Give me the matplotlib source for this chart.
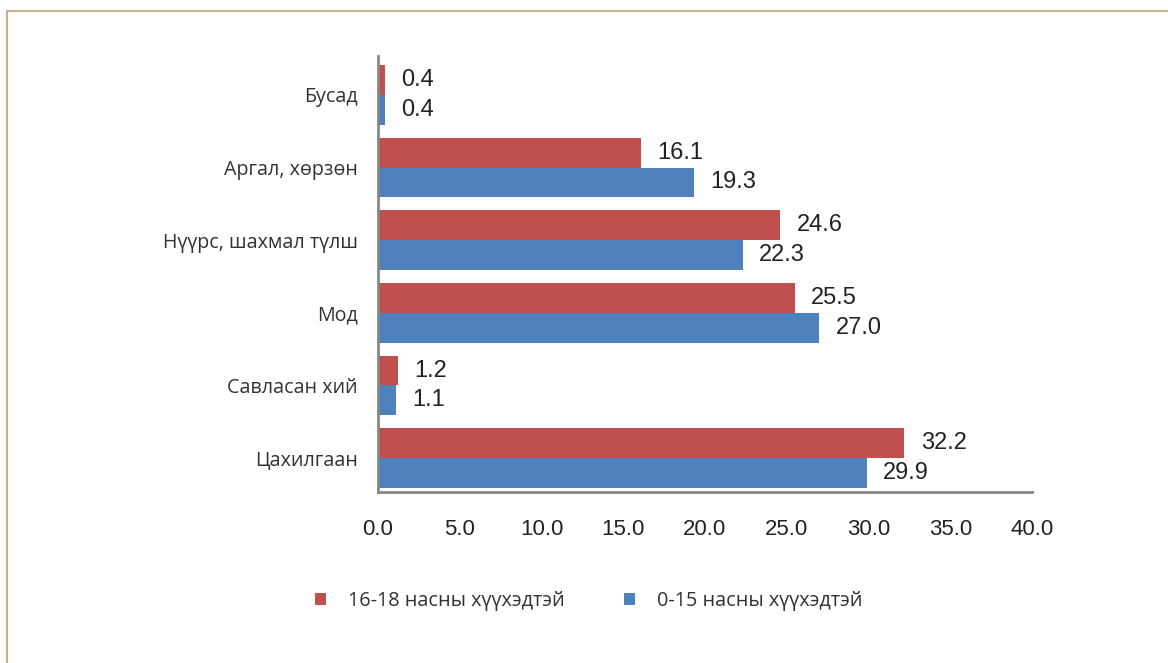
import matplotlib.pyplot as plt
import numpy as np
from matplotlib.patches import Rectangle

categories = ['Цахилгаан', 'Савласан хий', 'Мод', 'Нүүрс, шахмал түлш', 'Аргал, хөрзөн', 'Бусад']
older = [32.2, 1.2, 25.5, 24.6, 16.1, 0.4]     # 16-18 насны хүүхэдтэй
younger = [29.9, 1.1, 27.0, 22.3, 19.3, 0.4]   # 0-15 насны хүүхэдтэй
series_names = ['16-18 насны хүүхэдтэй', '0-15 насны хүүхэдтэй']
xticks = [0, 5, 10, 15, 20, 25, 30, 35, 40]

red = '#C0504D'
blue = '#4F81BD'
spine_col = '#868686'
num_font = ['Liberation Sans', 'DejaVu Sans']

fig = plt.figure(figsize=(11.68, 6.63), dpi=100)
ax = fig.add_axes([378 / 1168, 1 - 492 / 663, (1032 - 378) / 1168, (492 - 56) / 663])

# frame around the chart area
fig.patches.append(Rectangle((7 / 1168, -0.01), 1.1, 1 - 11 / 663 + 0.01, transform=fig.transFigure,
                             fill=False, edgecolor='#C4B68A', linewidth=1.5))

y = np.arange(len(categories))
h = 0.41
b1 = ax.barh(y + h / 2, older, height=h, color=red)
b2 = ax.barh(y - h / 2, younger, height=h, color=blue)

for bars, vals in [(b1, older), (b2, younger)]:
    for bar, v in zip(bars, vals):
        ax.text(v + 1.0, bar.get_y() + bar.get_height() / 2, f'{v:.1f}',
                va='center', ha='left', fontsize=17, family=num_font, color='#222222')

ax.set_xlim(0, 40)
ax.set_ylim(-0.468, 5.537)
ax.set_xticks(xticks)
ax.set_xticklabels([f'{t:.1f}' for t in xticks], fontsize=16, family=num_font, color='#222222')
ax.set_yticks(y)
ax.set_yticklabels(categories, fontsize=14.2, family='Open Sans', color='#333333')
ax.tick_params(axis='both', length=0)
ax.tick_params(axis='x', pad=19.5)
ax.tick_params(axis='y', pad=14.4)

for s in ['top', 'right']:
    ax.spines[s].set_visible(False)
for s in ['left', 'bottom']:
    ax.spines[s].set_color(spine_col)
    ax.spines[s].set_linewidth(2)

leg = fig.legend([b1, b2], series_names, loc='center', bbox_to_anchor=(0.504, 1 - 601 / 663),
                 ncol=2, frameon=False, prop={'family': 'Open Sans', 'size': 14.3},
                 handlelength=0.55, handleheight=0.55, columnspacing=3.0, handletextpad=1.1)
for t in leg.get_texts():
    t.set_color('#333333')

fig.savefig('out.png', dpi=100)
